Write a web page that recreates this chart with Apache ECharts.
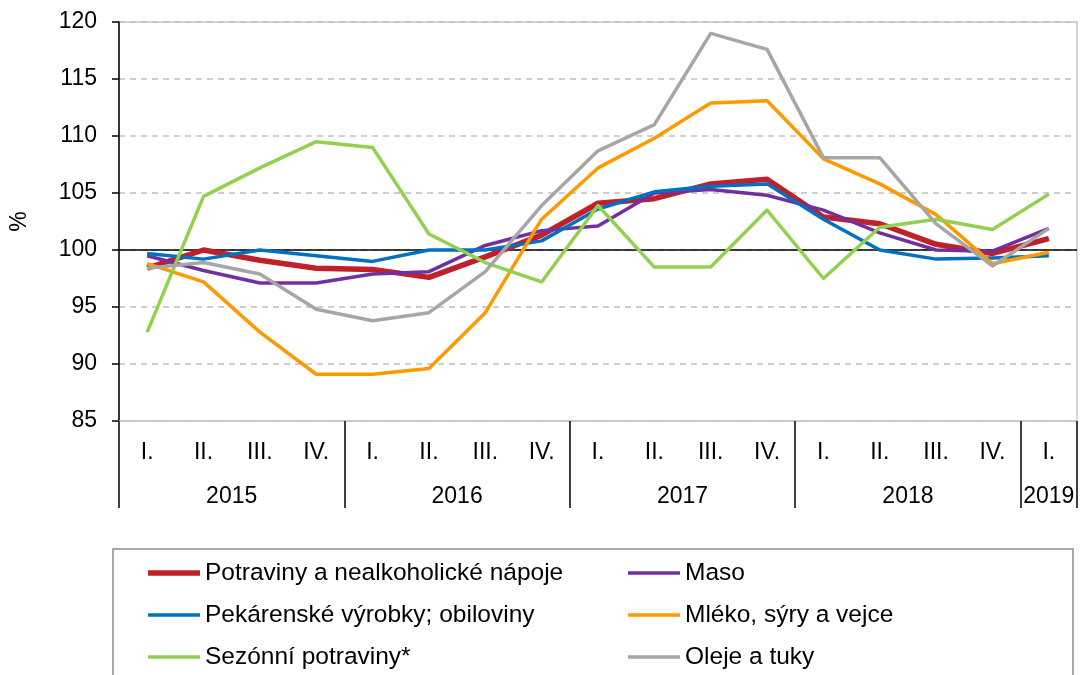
<!DOCTYPE html>
<html>
<head>
<meta charset="utf-8">
<script src="https://cdn.jsdelivr.net/npm/echarts@6/dist/echarts.min.js"></script>
<style>html,body{margin:0;padding:0;background:#fff}#c{width:1080px;height:675px}</style>
</head>
<body>
<div id="c"></div>
<script>
const quarters = ['I.','II.','III.','IV.','I.','II.','III.','IV.','I.','II.','III.','IV.','I.','II.','III.','IV.','I.'];
const years = ['2015','2016','2017','2018','2019'];
const yearCenters = [2, 6, 10, 14, 16.5];

const potraviny = [98.4,100.0,99.1,98.4,98.3,97.6,99.4,101.3,104.1,104.5,105.8,106.2,102.9,102.3,100.5,99.7,101.0];
const maso      = [99.5,98.2,97.1,97.1,97.9,98.1,100.4,101.7,102.1,105.0,105.3,104.8,103.5,101.5,100.0,99.9,101.9];
const pekarenske= [99.7,99.2,100.0,99.5,99.0,100.0,100.0,100.8,103.6,105.1,105.6,105.8,102.7,100.0,99.2,99.3,99.5];
const mleko     = [98.8,97.2,92.8,89.1,89.1,89.6,94.5,102.7,107.2,109.8,112.9,113.1,108.0,105.8,103.1,98.8,99.8];
const sezonni   = [92.8,104.7,107.2,109.5,109.0,101.4,98.9,97.2,103.9,98.5,98.5,103.5,97.5,102.0,102.7,101.8,104.9];
const oleje     = [98.4,98.9,97.9,94.8,93.8,94.5,98.1,103.9,108.7,111.0,119.0,117.6,108.1,108.1,102.3,98.6,101.9];

const names = ['Potraviny a nealkoholické nápoje','Maso','Pekárenské výrobky; obiloviny','Mléko, sýry a vejce','Sezónní potraviny*','Oleje a tuky'];
const colors = ['#c0202a','#7030a0','#0070c0','#ff9900','#92d050','#a6a6a6'];
const widths = [5.5,3.5,3.5,3.5,3.5,3.5];
const datas = [potraviny, maso, pekarenske, mleko, sezonni, oleje];

const font = 'Liberation Sans, Arial, sans-serif';
const chart = echarts.init(document.getElementById('c'), null, {renderer:'canvas'});

const series = names.map((n,i)=>({
  name:n, type:'line', data:datas[i], symbol:'none', smooth:false,
  lineStyle:{color:colors[i], width:widths[i], join:'round'}, itemStyle:{color:colors[i]},
  xAxisIndex:0, yAxisIndex:0, z: 2+i,
  markLine: i===0 ? {silent:true, symbol:'none', label:{show:false}, z:1,
    lineStyle:{color:'#000', width:1.5, type:'solid'}, data:[{yAxis:100}]} : undefined
}));

const legendItem = (i)=>({name:names[i], icon:'path://M0,0 L52,0 L52,'+widths[i]+' L0,'+widths[i]+' Z'});
const legendText = {color:'#000', fontSize:24.5, fontFamily:font, lineHeight:42};

chart.setOption({
  animation:false,
  backgroundColor:'#fff',
  textStyle:{fontFamily:font},
  grid:{left:117, right:3, top:22, bottom:254, show:true, borderColor:'#c8c8c8', borderWidth:1.5, containLabel:false},
  xAxis:[{
    type:'category', data:quarters, boundaryGap:true, position:'bottom',
    axisLine:{show:true, lineStyle:{color:'#c8c8c8', width:1.5}},
    axisTick:{show:true, length:87, inside:false, interval:(idx)=>idx%4===0, lineStyle:{color:'#000', width:1.5}},
    axisLabel:{show:true, interval:0, color:'#000', fontSize:23, fontFamily:font, margin:20},
    splitLine:{show:false}
  },{
    type:'value', min:0, max:17, interval:0.5, position:'bottom', gridIndex:0,
    axisLine:{show:false}, axisTick:{show:false}, splitLine:{show:false},
    axisLabel:{show:true, color:'#000', fontSize:23, fontFamily:font, margin:64,
      showMinLabel:true, showMaxLabel:true,
      formatter:(v)=>{const k=yearCenters.indexOf(v); return k>=0?years[k]:'';}}
  }],
  yAxis:{
    type:'value', min:85, max:120, interval:5,
    name:'%', nameLocation:'middle', nameRotate:90, nameGap:88,
    nameTextStyle:{color:'#000', fontSize:23, fontFamily:font},
    axisLine:{show:true, lineStyle:{color:'#000', width:1.5}},
    axisTick:{show:true, length:7, lineStyle:{color:'#000', width:1.5}},
    axisLabel:{color:'#000', fontSize:23, fontFamily:font, margin:22},
    splitLine:{show:true, lineStyle:{color:'#c0c0c0', width:1.5, type:[6,5]}}
  },
  legend:[{
    data:[0,2,4].map(legendItem), left:113, top:549, orient:'vertical', height:300,
    itemWidth:52, itemHeight:14, itemGap:0,
    padding:[3,445,40,35],
    borderColor:'#8c8c8c', borderWidth:1.5,
    textStyle:Object.assign({width:423, overflow:'none'}, legendText)
  },{
    data:[1,3,5].map(legendItem), left:628, top:552, orient:'vertical', height:300, z:5,
    itemWidth:52, itemHeight:14, itemGap:0, padding:0,
    textStyle:legendText
  }],
  series: series
});
</script>
</body>
</html>
